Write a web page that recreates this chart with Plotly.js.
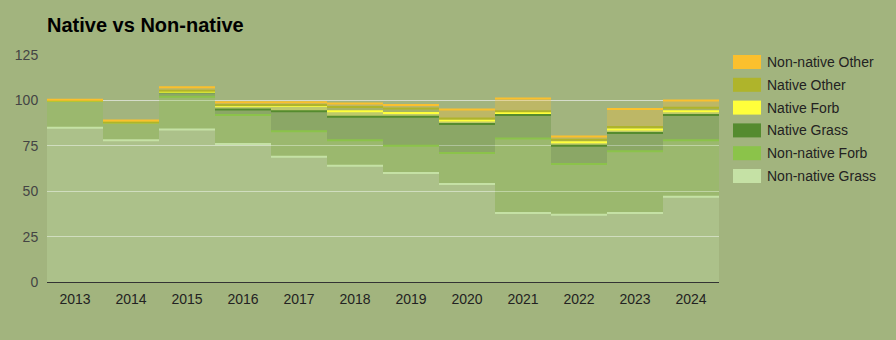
<!DOCTYPE html>
<html>
<head>
<meta charset="utf-8">
<script src="https://cdn.plot.ly/plotly-3.0.1.min.js"></script>
<style>html,body{margin:0;padding:0;background:#a2b47e;}#chart{width:896px;height:340px;}</style>
</head>
<body>
<div id="chart"></div>
<script>
// ---- data ----
const categories = ["2013","2014","2015","2016","2017","2018","2019","2020","2021","2022","2023","2024"];
const nonNativeGrass = [85, 78, 84, 76, 69, 64, 60, 54, 38, 37, 38, 47];
const nonNativeForb  = [15, 10, 18, 16, 14, 14, 15, 17, 41, 28, 34, 31];
const nativeGrass    = [0, 0, 2.5, 3, 11, 13, 16, 16, 13, 10, 10, 14];
const nativeForb     = [0, 0, 0.3, 2, 3, 3, 2, 2, 1, 2, 2, 2];
const nativeOther    = [0, 0, 0.5, 0.5, 0.5, 2.3, 2.5, 1, 1, 1.3, 1.3, 2];
const nonNativeOther = [0.3, 1, 2, 1.5, 1.5, 2, 2, 5, 7, 1.8, 10, 4];
const seriesNames = ["Non-native Grass","Non-native Forb","Native Grass","Native Forb","Native Other","Non-native Other"];
const yTicks = [0, 25, 50, 75, 100, 125];

// ---- styling ----
const seriesData = [nonNativeGrass, nonNativeForb, nativeGrass, nativeForb, nativeOther, nonNativeOther];
const colors = ["#c5e1a5","#8bc34a","#558b2f","#ffff3b","#afb42b","#fbc02d"];
function rgba(hex, a){
  const n = parseInt(hex.slice(1),16);
  return `rgba(${(n>>16)&255},${(n>>8)&255},${n&255},${a})`;
}
const bg = "#a2b47e";
const W = 896, H = 340;
const M = {l:47, r:177, t:55, b:58};
const plotW = W - M.l - M.r, plotH = H - M.t - M.b;
const pxX = px => (px - M.l)/plotW;
const pxY = py => (H - M.b - py)/plotH;
const FONT = 'Liberation Sans, Arial, sans-serif';

const n = categories.length;
const idx = categories.map((c,i)=>i);
const stepX = idx.map(i=>i-0.5).concat([n-0.5]);

const traces = [];
// filled areas (stacked, stepped)
seriesData.forEach((vals, s) => {
  traces.push({
    type:'scatter', mode:'lines', x: stepX, y: vals.concat([vals[n-1]]),
    stackgroup:'one', line:{shape:'hv', width:0, color:colors[s]},
    fillcolor: rgba(colors[s],0.3), hoverinfo:'skip', showlegend:false, name:seriesNames[s]
  });
});
// top lines (horizontal only)
const cum = new Array(n).fill(0);
seriesData.forEach((vals, s) => {
  const xs = [], ys = [];
  vals.forEach((v,i)=>{ cum[i] += v; xs.push(i-0.5, i+0.5, null); ys.push(cum[i], cum[i], null); });
  traces.push({
    type:'scatter', mode:'lines', x:xs, y:ys, connectgaps:false,
    line:{color:colors[s], width:2}, hoverinfo:'skip', showlegend:false
  });
});

// manual legend
const shapes = [], annotations = [];
const legendOrder = seriesNames.map((s,i)=>i).reverse();
legendOrder.forEach((s,k)=>{
  const cy = 62 + 22.8*k;
  shapes.push({type:'rect', xref:'paper', yref:'paper', x0:pxX(733), x1:pxX(761), y0:pxY(cy+7), y1:pxY(cy-7),
    fillcolor:colors[s], line:{width:0}});
  annotations.push({xref:'paper', yref:'paper', x:pxX(765), y:pxY(cy), xanchor:'left', yanchor:'middle',
    text:seriesNames[s], showarrow:false, font:{family:FONT, size:14, color:'#222'}});
});

const layout = {
  width:W, height:H, margin:M,
  paper_bgcolor:bg, plot_bgcolor:bg,
  font:{family:FONT, size:14, color:'#222'},
  title:{text:'<b>Native vs Non-native</b>', xref:'container', yref:'container', x:47/W, xanchor:'left',
    y:1-25/H, yanchor:'middle', font:{size:20, color:'#000', family:FONT}},
  showlegend:false,
  xaxis:{range:[-0.5, n-0.5], tickvals:idx, ticktext:categories, showgrid:false, zeroline:false,
    showline:false, ticks:'outside', ticklen:4, tickcolor:'rgba(0,0,0,0)', fixedrange:true,
    tickfont:{size:14, color:'#222'}},
  yaxis:{range:[0,125], tickvals:yTicks, showgrid:true, gridcolor:'#d6dccb', gridwidth:1,
    zeroline:true, zerolinecolor:'#333', zerolinewidth:1, ticks:'outside', ticklen:5,
    tickcolor:'rgba(0,0,0,0)', tickfont:{size:14, color:'#444'}, fixedrange:true},
  shapes:shapes, annotations:annotations,
  hovermode:false
};
Plotly.newPlot('chart', traces, layout, {displayModeBar:false, staticPlot:true});
</script>
</body>
</html>
